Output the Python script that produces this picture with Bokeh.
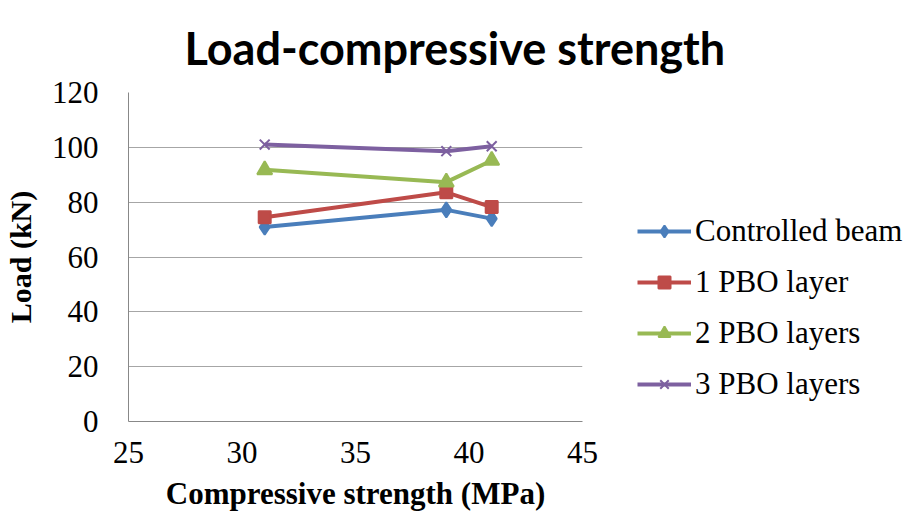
from bokeh.plotting import figure
from bokeh.models import Legend, LegendItem, Title, Range1d, FixedTicker
from bokeh.embed import file_html
from bokeh.resources import INLINE

strength = [31, 39, 41]
controlled = [70.9, 77.2, 74.0]
pbo1 = [74.5, 83.6, 78.2]
pbo2 = [91.8, 87.3, 95.2]
pbo3 = [101.0, 98.6, 100.4]
series_names = ["Controlled beam", "1 PBO layer", "2 PBO layers", "3 PBO layers"]
x_ticks = [25, 30, 35, 40, 45]
y_ticks = [0, 20, 40, 60, 80, 100, 120]

colors = ["#4A7EBB", "#BE4B48", "#98B954", "#7D60A0"]
markers = ["diamond", "square", "triangle", "x"]
sizes = [15, 12, 15, 14]

p = figure(frame_width=454, frame_height=329, output_backend="svg", toolbar_location=None,
           x_range=Range1d(25, 45), y_range=Range1d(0, 120),
           min_border_left=127, min_border_right=334, min_border_top=92, min_border_bottom=102)
p.outline_line_color = None
p.background_fill_color = "white"
p.border_fill_color = "white"

title = Title(text="Load-compressive strength", align="left", vertical_align="bottom",
              text_font="Lato", text_font_size="45px", text_font_style="bold",
              text_color="black", offset=56, standoff=36)
p.add_layout(title, "above")

p.xaxis.ticker = FixedTicker(ticks=x_ticks)
p.yaxis.ticker = FixedTicker(ticks=y_ticks)
for ax in (p.xaxis, p.yaxis):
    ax.major_tick_line_color = None
    ax.minor_tick_line_color = None
    ax.axis_line_color = "#888888"
    ax.axis_line_width = 1
    ax.major_label_text_font = "Liberation Serif"
    ax.major_label_text_font_size = "31px"
    ax.major_label_text_color = "black"
    ax.axis_label_text_font = "Liberation Serif"
    ax.axis_label_text_font_style = "bold"
    ax.axis_label_text_color = "black"
p.xaxis.axis_label_text_font_size = "31px"
p.yaxis.axis_label_text_font_size = "30px"
p.xaxis.axis_label = "Compressive strength (MPa)"
p.yaxis.axis_label = "Load (kN)"
p.xaxis.major_label_standoff = 14
p.yaxis.major_label_standoff = 24
p.xaxis.axis_label_standoff = 10
p.yaxis.axis_label_standoff = 12

p.xgrid.grid_line_color = None
p.ygrid.grid_line_color = "#A6A6A6"
p.ygrid.grid_line_width = 1

items = []
for name, ys, c, m, s in zip(series_names, [controlled, pbo1, pbo2, pbo3], colors, markers, sizes):
    lr = p.line(strength, ys, line_color=c, line_width=4)
    sr = p.scatter(strength, ys, marker=m, size=s, fill_color=c, line_color=c, line_width=2)
    items.append(LegendItem(label=name, renderers=[lr, sr]))

legend = Legend(items=items, location=(55, 19), border_line_color=None,
                background_fill_alpha=0, label_text_font="Liberation Serif",
                label_text_font_size="31px", label_text_color="black",
                glyph_width=54, glyph_height=30,
                spacing=15, label_standoff=4, padding=0, margin=0)
p.add_layout(legend, "right")

open("out.html", "w").write(file_html(p, INLINE))
